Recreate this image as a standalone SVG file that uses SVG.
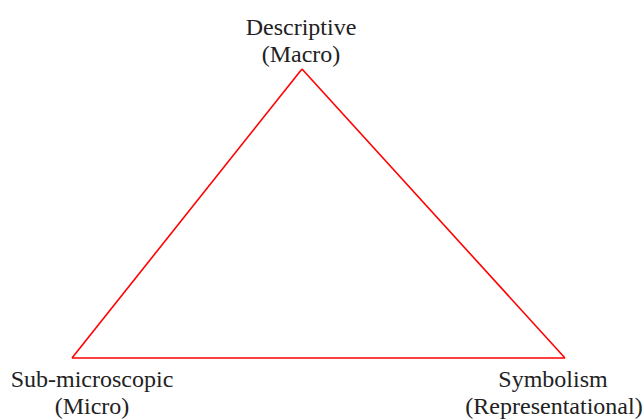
<svg xmlns="http://www.w3.org/2000/svg" width="644" height="419" viewBox="0 0 644 419">
<style>
text{font-family:"Liberation Serif","Times New Roman",serif;font-size:24px;fill:#222;text-anchor:middle}
.edge{stroke:#ff0000;stroke-width:1.6;fill:none}
</style>
<rect width="644" height="419" fill="#fff"/>
<g id="connectors">
<line class="edge" x1="302" y1="69" x2="72" y2="358"/>
<line class="edge" x1="302" y1="69" x2="565" y2="358"/>
<line class="edge" x1="72" y1="358" x2="565" y2="358"/>
</g>
<g id="node-macro">
<text x="301" y="35">Descriptive</text>
<text x="301" y="62">(Macro)</text>
</g>
<g id="node-micro">
<text x="92" y="387">Sub-microscopic</text>
<text x="92" y="414">(Micro)</text>
</g>
<g id="node-symbolism">
<text x="553" y="387">Symbolism</text>
<text x="554" y="414">(Representational)</text>
</g>
</svg>
